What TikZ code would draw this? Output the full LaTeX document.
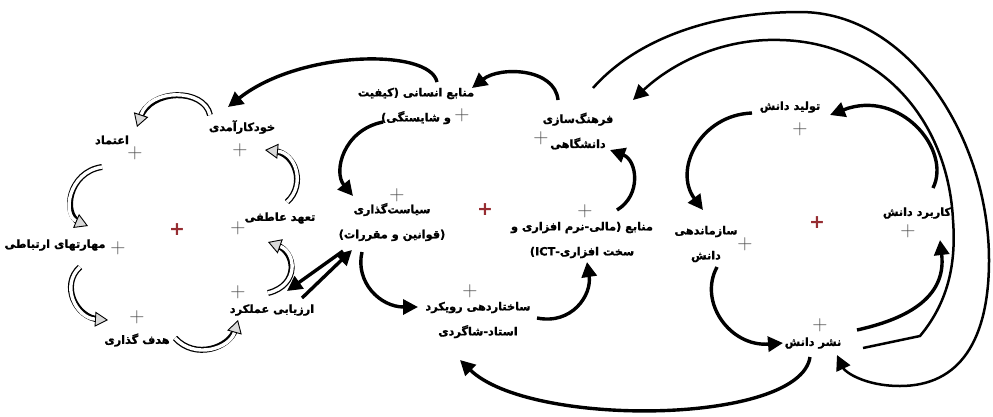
\documentclass[tikz,border=0pt]{standalone}
\usepackage{fontspec}
\usetikzlibrary{arrows.meta}
\newfontfamily\fafont[Script=Arabic,BoldFeatures={FakeBold=1.3}]{DejaVu Sans}
\newfontfamily\symfont{DejaVu Sans}
\TeXXeTstate=1
\newcommand{\rtltext}[1]{\beginR #1\endR}
\definecolor{redplus}{RGB}{150,45,50}
\tikzset{
  lbl/.style={font=\fafont\bfseries\fontsize{11.3}{25}\selectfont, align=center, inner sep=0pt},
  pl/.style={font=\fontsize{21}{21}\selectfont, text=black!70, inner sep=0pt},
  rpl/.style={font=\symfont\bfseries\fontsize{19}{19}\selectfont, text=redplus, inner sep=0pt},
  blk/.style={line width=3.4pt, -{Triangle[length=15pt,width=15pt]}},
  thin arc/.style={line width=2.5pt, -{Triangle[length=15pt,width=15pt]}},
  hollow/.style={
    preaction={draw=black, line width=6pt, arrows=-, shorten >=9pt},
    draw=white, line width=3.4pt,
    -{Triangle[length=13pt,width=15pt,line width=0.9pt,color=black,fill=black!15]}}
}
\begin{document}
\begin{tikzpicture}[x=1pt,y=-1pt]
\useasboundingbox (0,0) rectangle (993,416);

% ---------- left loop ----------
\node[lbl] (khod) at (242,127) {\rtltext{خودکارآمدی}};
\node[pl]  (khodp) at (240,150) {+};
\node[lbl] (etem) at (112,140) {\rtltext{اعتماد}};
\node[pl]  (etemp) at (135,153) {+};
\node[lbl] (mahar) at (55,245) {\rtltext{مهارتهای ارتباطی}};
\node[pl]  (maharp) at (118,248) {+};
\node[lbl] (hadaf) at (137,340) {\rtltext{هدف گذاری}};
\node[pl]  (hadafp) at (137,317) {+};
\node[lbl] (arz) at (272,310) {\rtltext{ارزیابی عملکرد}};
\node[pl]  (arzp) at (238,292) {+};
\node[lbl] (taah) at (280,218) {\rtltext{تعهد عاطفی}};
\node[pl]  (taahp) at (238,228) {+};
\node[rpl] (redL) at (177,230) {+};

% ---------- middle loop ----------
\node[lbl] (ensani) at (416,106) {\rtltext{منابع انسانی (کیفیت}\\\rtltext{و شایستگی)}};
\node[pl]  (ensanip) at (462,115) {+};
\node[lbl] (farhang) at (578,131) {\rtltext{فرهنگ^^^^200cسازی}\\\rtltext{دانشگاهی}};
\node[pl]  (farhangp) at (541,138) {+};
\node[lbl] (siasat) at (392,222) {\rtltext{سیاست^^^^200cگذاری}\\\rtltext{(قوانین و مقررات)}};
\node[pl]  (siasatp) at (397,195) {+};
\node[lbl] (mali) at (582,240) {\rtltext{منابع (مالی-نرم افزاری و}\\\rtltext{سخت افزاری-ICT)}};
\node[pl]  (malip) at (585,211) {+};
\node[lbl] (sakht) at (478,320) {\rtltext{ساختاردهی رویکرد}\\\rtltext{استاد-شاگردی}};
\node[pl]  (sakhtp) at (470,291) {+};
\node[rpl] (redM) at (485,210) {+};

% ---------- right loop ----------
\node[lbl] (tolid) at (790,107) {\rtltext{تولید دانش}};
\node[pl]  (tolidp) at (800,129) {+};
\node[lbl] (sazman) at (706,244) {\rtltext{سازماندهی}\\\rtltext{دانش}};
\node[pl]  (sazmanp) at (745,244) {+};
\node[lbl] (karbord) at (917,213) {\rtltext{کاربرد دانش}};
\node[pl]  (karbordp) at (908,231) {+};
\node[lbl] (nashr) at (813,343) {\rtltext{نشر دانش}};
\node[pl]  (nashrp) at (820,325) {+};
\node[rpl] (redR) at (817,223) {+};

% ---------- connector end points ----------
\coordinate (h1s) at (210,115); \coordinate (h1e) at (137,127);
\coordinate (h2s) at (102,167); \coordinate (h2e) at (88,226);
\coordinate (h3s) at (80,267);  \coordinate (h3e) at (108,320);
\coordinate (h4s) at (175,338); \coordinate (h4e) at (238,320);
\coordinate (h5s) at (268,293); \coordinate (h5e) at (268,242);
\coordinate (h6s) at (287,202); \coordinate (h6e) at (265,150);

\coordinate (m1s) at (558,100); \coordinate (m1e) at (472,88);
\coordinate (m2s) at (437,82);  \coordinate (m2e) at (228,107);
\coordinate (m3s) at (383,122); \coordinate (m3e) at (353,196);
\coordinate (m4s) at (362,252); \coordinate (m4e) at (418,307);
\coordinate (m5s) at (537,318); \coordinate (m5e) at (587,262);
\coordinate (m6s) at (617,210); \coordinate (m6e) at (610,150);
\coordinate (d1s) at (343,251); \coordinate (d1e) at (287,291);
\coordinate (d2s) at (302,298); \coordinate (d2e) at (352,250);

\coordinate (r1s) at (752,113); \coordinate (r1e) at (703,210);
\coordinate (r2s) at (933,188); \coordinate (r2e) at (830,115);
\coordinate (r3s) at (717,267); \coordinate (r3e) at (783,343);
\coordinate (r4s) at (857,330); \coordinate (r4e) at (940,240);
\coordinate (r5s) at (810,357); \coordinate (r5e) at (460,360);

\coordinate (o1s) at (593,88);  \coordinate (o1e) at (837,355);
\coordinate (o2s) at (863,348); \coordinate (o2e) at (633,100);

% ---------- left loop (hollow arrows) ----------
\draw[hollow] (h1s) .. controls (204,88) and (150,88) .. (h1e);
\draw[hollow] (h2s) .. controls (68,172) and (62,215) .. (h2e);
\draw[hollow] (h3s) .. controls (60,285) and (76,318) .. (h3e);
\draw[hollow] (h4s) .. controls (195,360) and (230,348) .. (h4e);
\draw[hollow] (h5s) .. controls (300,285) and (296,252) .. (h5e);
\draw[hollow] (h6s) .. controls (306,185) and (296,153) .. (h6e);

% ---------- middle loop ----------
\draw[blk] (m1s) .. controls (555,68) and (500,66) .. (m1e);
\draw[blk] (m2s) .. controls (430,48) and (300,50) .. (m2e);
\draw[blk] (m3s) .. controls (343,130) and (333,172) .. (m3e);
\draw[blk] (m4s) .. controls (355,282) and (380,307) .. (m4e);
\draw[blk] (m5s) .. controls (572,325) and (592,295) .. (m5e);
\draw[blk] (m6s) .. controls (642,195) and (637,160) .. (m6e);
\draw[blk] (d1s) -- (d1e);
\draw[blk] (d2s) -- (d2e);

% ---------- right loop ----------
\draw[blk] (r1s) .. controls (700,115) and (673,170) .. (r1e);
\draw[blk] (r2s) .. controls (952,150) and (900,88) .. (r2e);
\draw[blk] (r3s) .. controls (698,302) and (730,347) .. (r3e);
\draw[blk] (r4s) .. controls (902,320) and (947,300) .. (r4e);
\draw[blk] (r5s) .. controls (800,425) and (530,428) .. (r5e);

% ---------- outer arcs ----------
\draw[thin arc] (o1s) .. controls (640,35) and (720,12) .. (800,12)
   .. controls (910,12) and (989,140) .. (989,260)
   .. controls (989,340) and (960,386) .. (900,386)
   .. controls (865,386) and (845,372) .. (o1e);
\draw[thin arc] (o2s) -- (920,336)
   .. controls (950,300) and (956,260) .. (953,220)
   .. controls (948,120) and (880,42) .. (780,40)
   .. controls (720,38) and (670,65) .. (o2e);
\end{tikzpicture}
\end{document}
